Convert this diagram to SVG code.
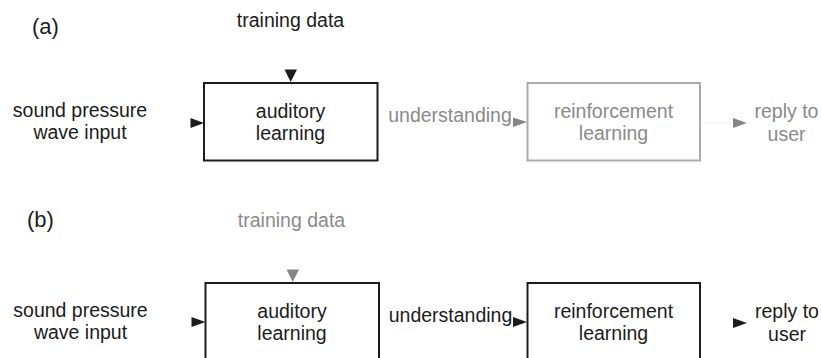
<svg xmlns="http://www.w3.org/2000/svg" width="821" height="358" viewBox="0 0 821 358">
<style>
text{font-family:"Liberation Sans",Arial,sans-serif;font-size:19.5px;text-anchor:middle}
.lbl{font-size:22px;text-anchor:start}
.k{fill:#1c1c1c}
.g{fill:#8a8a8a}
.bk{fill:#fff;stroke:#1c1c1c;stroke-width:2}
.bg{fill:#fff;stroke:#ababab;stroke-width:2}
.ak{fill:#1c1c1c}
.ag{fill:#858585}
.faint{stroke:#f4f4f4;stroke-width:1.5;fill:none}
</style>
<rect width="821" height="358" fill="#fff"/>
<text class="k lbl" x="32" y="34">(a)</text>
<text class="k lbl" x="27" y="227">(b)</text>
<g id="a-training"><text class="k" x="290.5" y="27">training data</text></g>
<g id="a-input"><text class="k" x="80" y="116.5">sound pressure</text><text class="k" x="80" y="138.5">wave input</text></g>
<g id="a-auditory"><rect class="bk" x="204" y="83" width="173.5" height="77.5"/><text class="k" x="290.5" y="118">auditory</text><text class="k" x="290.5" y="140">learning</text></g>
<g id="a-understanding"><text class="g" x="450" y="121.5">understanding</text></g>
<g id="a-reinforcement"><rect class="bg" x="527.5" y="83" width="172.5" height="77.5"/><text class="g" x="613.5" y="118">reinforcement</text><text class="g" x="613.5" y="140">learning</text></g>
<g id="a-reply"><text class="g" x="786.5" y="118">reply to</text><text class="g" x="786.5" y="140.5">user</text></g>
<g id="b-training"><text class="g" x="291.5" y="226.5">training data</text></g>
<g id="b-input"><text class="k" x="80.5" y="316.5">sound pressure</text><text class="k" x="80.5" y="338.5">wave input</text></g>
<g id="b-auditory"><rect class="bk" x="205.5" y="283" width="173.5" height="80"/><text class="k" x="292" y="318">auditory</text><text class="k" x="292" y="340">learning</text></g>
<g id="b-understanding"><text class="k" x="450.5" y="321.5">understanding</text></g>
<g id="b-reinforcement"><rect class="bk" x="527.5" y="283" width="172.5" height="80"/><text class="k" x="613.5" y="318">reinforcement</text><text class="k" x="613.5" y="340">learning</text></g>
<g id="b-reply"><text class="k" x="787" y="318">reply to</text><text class="k" x="787" y="340.5">user</text></g>
<g id="connectors">
<line class="faint" x1="701" y1="123" x2="733" y2="123"/>
<polygon class="ak" points="284.5,69.5 297,69.5 290.7,82"/>
<polygon class="ak" points="190.5,118 190.5,128 204,123"/>
<polygon class="ag" points="513,117.5 513,127 527,122"/>
<polygon class="ag" points="733,118 733,128 747,123"/>
<polygon class="ag" points="286.5,269.5 299,269.5 292.7,282"/>
<polygon class="ak" points="191.5,317 191.5,327 205.5,322"/>
<polygon class="ak" points="513,317 513,327 527,322"/>
<polygon class="ak" points="733,318 733,328 747,323"/>
</g>
</svg>
